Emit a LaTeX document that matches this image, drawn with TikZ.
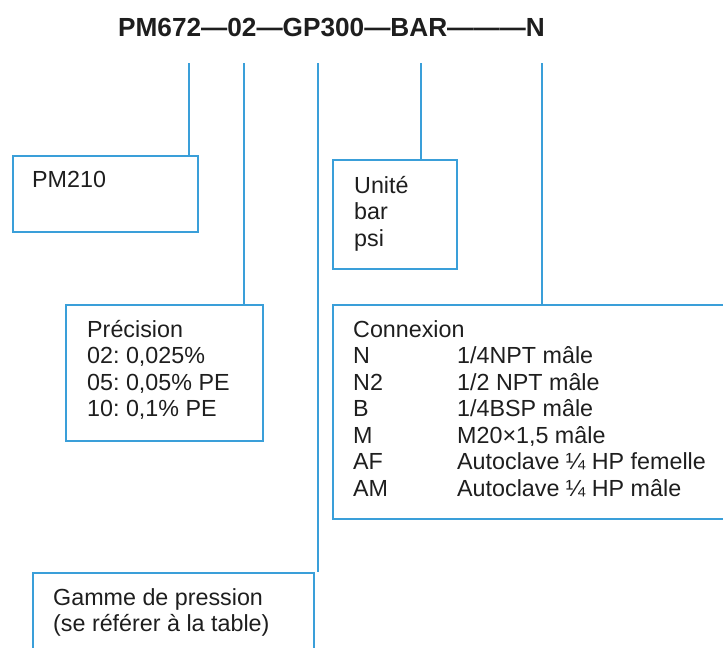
\documentclass[tikz,border=0pt]{standalone}
\usepackage{fontspec}
\setmainfont{Liberation Sans}
\frenchspacing
\definecolor{lblue}{HTML}{3A9FD9}
\definecolor{ink}{HTML}{1E1E1E}
\tikzset{
  box/.style={draw=lblue, line width=2pt, inner sep=0pt, anchor=north west},
  conn/.style={draw=lblue, line width=2pt},
  txt/.style={anchor=base west, inner sep=0pt, font=\fontsize{23.3}{26.5}\selectfont, text=ink},
}
\begin{document}
\begin{tikzpicture}[x=1pt,y=-1pt]
\useasboundingbox (0,0) rectangle (723,648);
\clip (0,0) rectangle (723,648);
% title
\node[anchor=base, inner sep=0pt, text=ink, font=\bfseries\fontsize{26.2}{30}\selectfont] (title) at (331.5,36) {PM672—02—GP300—BAR———N};
% boxes
\node[box, minimum width=185pt, minimum height=76pt] (b1) at (12,155) {};
\node[box, minimum width=197pt, minimum height=136pt] (b2) at (65,304) {};
\node[box, minimum width=124pt, minimum height=109pt] (b3) at (332,159) {};
\node[box, minimum width=410pt, minimum height=214pt] (b4) at (332,304) {};
\node[box, minimum width=281pt, minimum height=100pt] (b5) at (32,572) {};
% texts
\node[txt] (t1) at (32,187) {PM210};
\node[txt] (t2) at (87,337) {\begin{tabular}[t]{@{}l@{}}Précision\\02: 0,025\%\\05: 0,05\% PE\\10: 0,1\% PE\end{tabular}};
\node[txt] (t3) at (354,193) {\begin{tabular}[t]{@{}l@{}}Unité\\bar\\psi\end{tabular}};
\node[txt] (t4) at (353,337) {\begin{tabular}[t]{@{}p{104pt}@{}l@{}}\multicolumn{2}{@{}l@{}}{Connexion}\\
N & 1/4NPT mâle\\
N2 & 1/2 NPT mâle\\
B & 1/4BSP mâle\\
M & M20×1,5 mâle\\
AF & Autoclave ¼ HP femelle\\
AM & Autoclave ¼ HP mâle\end{tabular}};
\node[txt] (t5) at (53,605) {\begin{tabular}[t]{@{}l@{}}Gamme de pression\\(se référer à la table)\end{tabular}};
% connectors
\coordinate (p1) at (189,63);
\coordinate (p2) at (244,63);
\coordinate (p3) at (318,63);
\coordinate (p4) at (421,63);
\coordinate (p5) at (542,63);
\draw[conn] (p1) -- (p1 |- b1.north);
\draw[conn] (p2) -- (p2 |- b2.north);
\draw[conn] (p3) -- (p3 |- b5.north);
\draw[conn] (p4) -- (p4 |- b3.north);
\draw[conn] (p5) -- (p5 |- b4.north);
\end{tikzpicture}
\end{document}
